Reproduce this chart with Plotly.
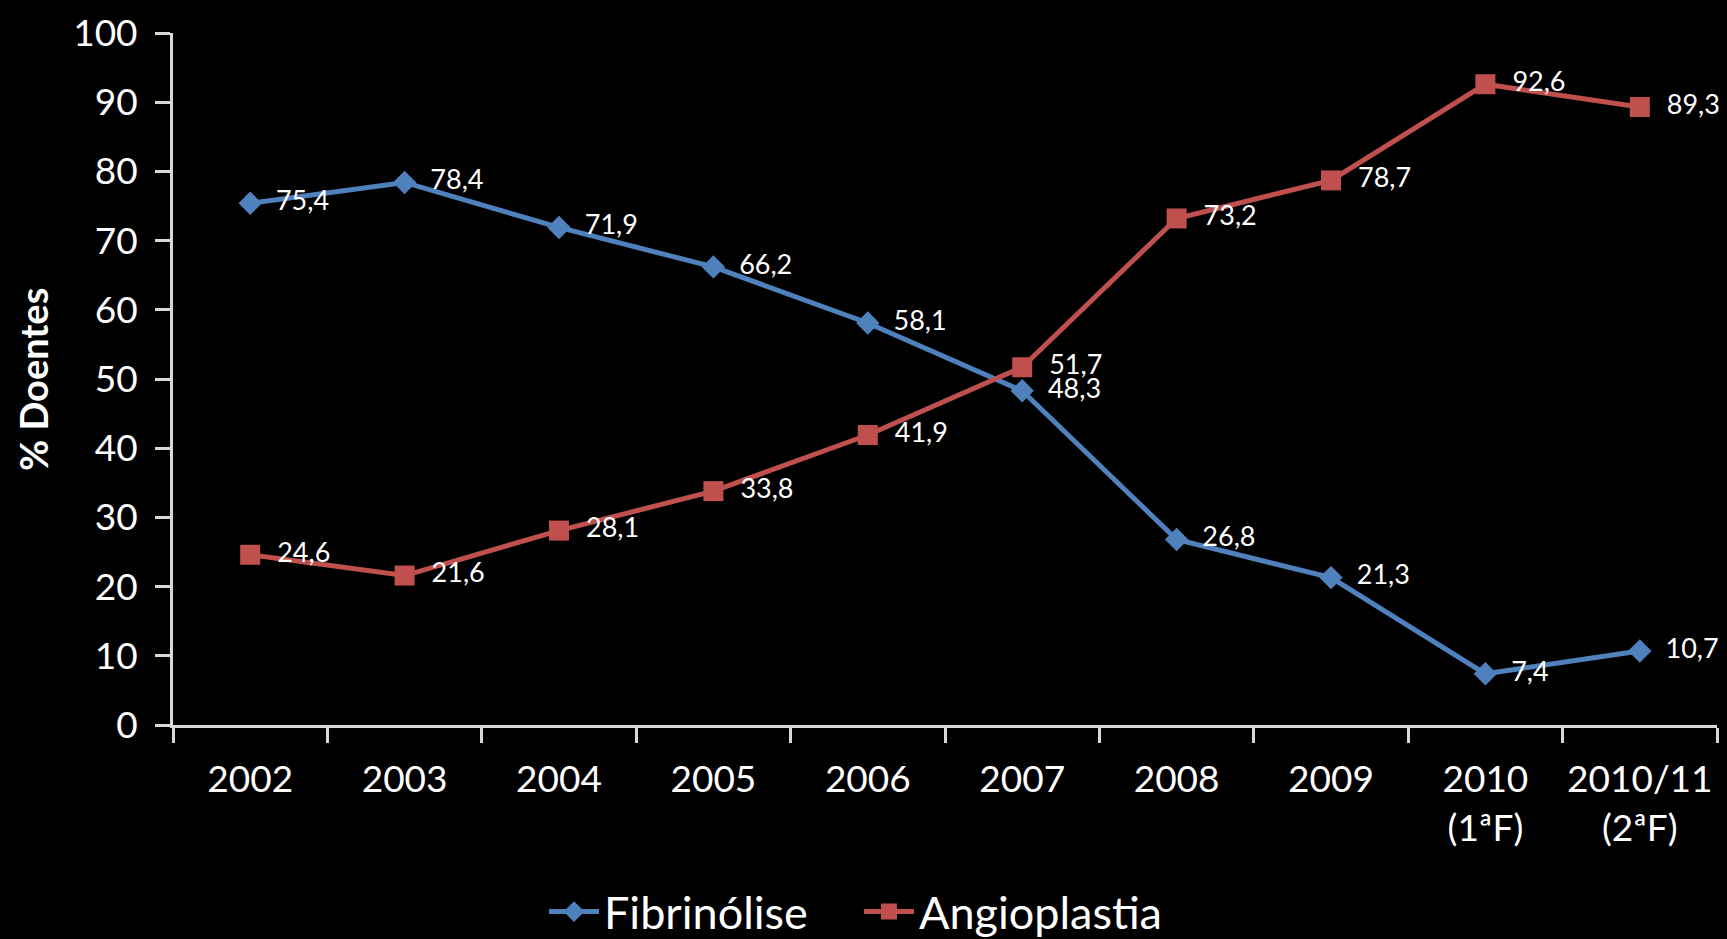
import plotly.graph_objects as go

categories = ["2002", "2003", "2004", "2005", "2006", "2007", "2008", "2009",
              "2010<br>(1ªF)", "2010/11<br>(2ªF)"]
fibrinolise = [75.4, 78.4, 71.9, 66.2, 58.1, 48.3, 26.8, 21.3, 7.4, 10.7]
angioplastia = [24.6, 21.6, 28.1, 33.8, 41.9, 51.7, 73.2, 78.7, 92.6, 89.3]
y_ticks = [0, 10, 20, 30, 40, 50, 60, 70, 80, 90, 100]
y_title = "% Doentes"

FONT = "Lato"
WHITE = "#FFFFFF"
AXIS = "#D9D9D9"
BLUE = "#4F81BD"
RED = "#C0504D"

fig = go.Figure()
fig.add_trace(go.Scatter(
    x=categories, y=fibrinolise, name="Fibrinólise",
    mode="lines+markers+text",
    line=dict(color=BLUE, width=5),
    marker=dict(symbol="diamond", size=18, color=BLUE),
    texttemplate="\u2002%{y:.1f}", textposition="middle right",
    textfont=dict(family=FONT, size=27, color=WHITE),
    cliponaxis=False,
))
fig.add_trace(go.Scatter(
    x=categories, y=angioplastia, name="Angioplastia",
    mode="lines+markers+text",
    line=dict(color=RED, width=5),
    marker=dict(symbol="square", size=20, color=RED),
    texttemplate="\u2002%{y:.1f}", textposition="middle right",
    textfont=dict(family=FONT, size=27, color=WHITE),
    cliponaxis=False,
))

fig.update_layout(
    width=1727, height=939,
    paper_bgcolor="black", plot_bgcolor="black",
    separators=", ",
    font=dict(family=FONT, color=WHITE),
    margin=dict(l=173, r=10, t=33, b=214, autoexpand=False),
    showlegend=True,
    legend=dict(
        orientation="h", xref="container", x=0.315, xanchor="left",
        yref="paper", y=-0.27, yanchor="middle",
        font=dict(family=FONT, size=45, color=WHITE),
        bgcolor="rgba(0,0,0,0)", itemwidth=50,
        entrywidth=250, entrywidthmode="pixels",
    ),
    xaxis=dict(
        type="category", range=[-0.5, 9.5],
        showline=True, linecolor=AXIS, linewidth=3,
        ticks="outside", tickson="boundaries", ticklen=15, tickwidth=3,
        tickcolor=AXIS, showgrid=False, zeroline=False, tickangle=0,
        tickfont=dict(family=FONT, size=37, color=WHITE),
        ticklabelstandoff=20,
    ),
    yaxis=dict(
        range=[0, 100], tickvals=y_ticks,
        showline=True, linecolor=AXIS, linewidth=3,
        ticks="outside", ticklen=15, tickwidth=3, tickcolor=AXIS,
        showgrid=False, zeroline=False,
        tickfont=dict(family=FONT, size=37, color=WHITE),
        ticklabelstandoff=10,
    ),
    annotations=[dict(
        text="<b>" + y_title + "</b>", textangle=-90,
        xref="paper", yref="paper", x=-0.0907, y=0.5,
        xanchor="center", yanchor="middle", showarrow=False,
        font=dict(family=FONT, size=38, color=WHITE),
    )],
)

fig.write_html(
    "out.html",
    config={"displayModeBar": False},
    post_script="document.body.style.margin='0';document.body.style.background='black';",
)
